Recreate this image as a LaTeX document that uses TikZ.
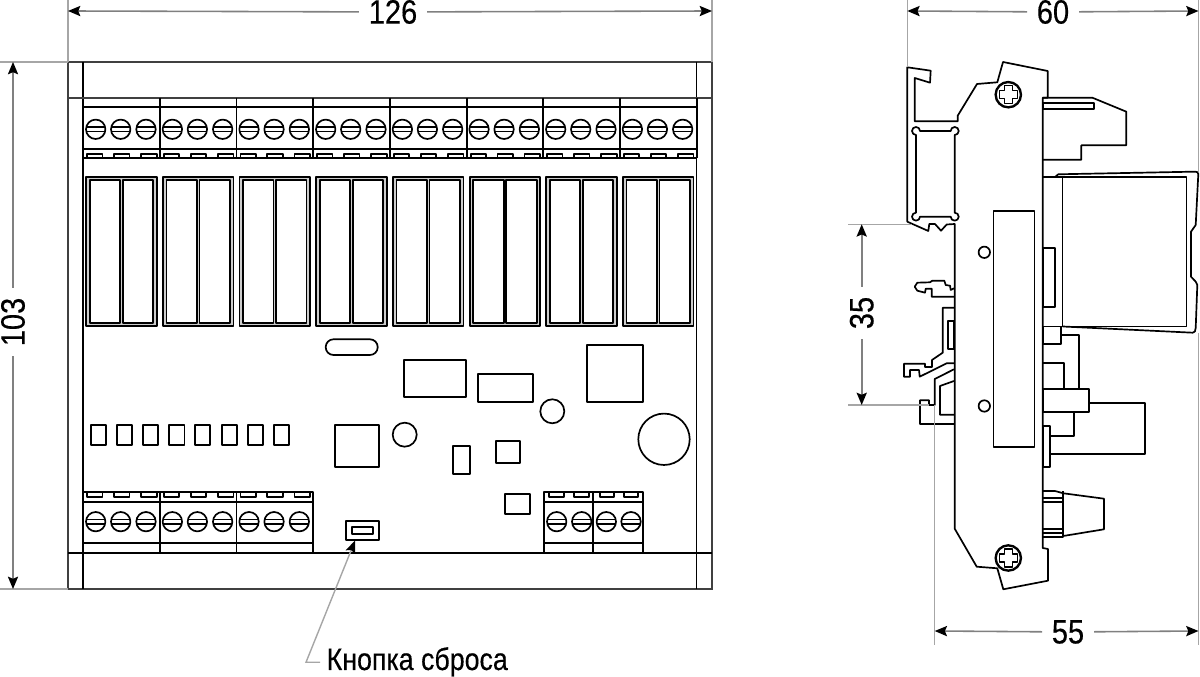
\documentclass[tikz,border=0pt]{standalone}
\usepackage{fontspec}
\setmainfont[FakeStretch=0.86,FakeBold=0.35]{Liberation Sans}
\usetikzlibrary{arrows.meta}
\definecolor{dimgray}{gray}{0.5}
\definecolor{relaygray}{gray}{0.8}
\tikzset{part/.style={draw=black,line width=0.48pt,line join=round},
  thickpart/.style={draw=black!75,line width=0.62pt},
  extline/.style={draw=dimgray!70,line width=0.4pt},
  dimline/.style={draw=dimgray,line width=0.45pt,{Stealth[length=3.5pt,width=2.9pt,inset=0.6pt,color=black]}-},
  dimtext/.style={inner sep=2.6pt,font=\fontsize{9.6}{10}\selectfont},
  labeltext/.style={inner sep=0pt,anchor=base west,font=\fontsize{8.85}{10}\selectfont}}
\newcommand{\screwhead}[2]{
    \draw[part] (#1,#2) circle (9.7);
    \draw[part] (#1-9.4,#2-2.3) -- (#1+9.4,#2-2.3);
    \draw[part] (#1-9.4,#2+2.3) -- (#1+9.4,#2+2.3);
}
\newcommand{\crossscrew}[2]{
    \draw[part] (#1,#2) circle (13);
    \draw[part,line width=0.3pt] (#1,#2) circle (12);
    \draw[part,line width=0.42pt] (#1-4,#2-9) -- (#1+4,#2-9) -- (#1+4,#2-4) -- (#1+9,#2-4) -- (#1+9,#2+4) -- (#1+4,#2+4) -- (#1+4,#2+9) -- (#1-4,#2+9) -- (#1-4,#2+4) -- (#1-9,#2+4) -- (#1-9,#2-4) -- (#1-4,#2-4) -- cycle;
}
\begin{document}
\begin{tikzpicture}[x=0.01cm,y=-0.01cm]
    \useasboundingbox (0,0) rectangle (1200,677);

    % housing, front view
    \draw[thickpart] (68,62) rectangle (712,589);
    \draw[part] (83.3,62) -- (83.3,589);
    \draw[part] (696.6,62) -- (696.6,589);
    \draw[thickpart] (68,97.7) -- (712,97.7);
    \draw[part] (68,553.3) -- (712,553.3);

    % upper terminals and relays
    \draw[part] (83.3,107.3) -- (696.6,107.3);
    \draw[part] (83.3,148.7) -- (696.6,148.7);
    \draw[part] (83.3,158.3) -- (696.6,158.3);
    \foreach \i in {0,...,7}{
      \begin{scope}[shift={({83.3+76.67*\i},0)}]
        \draw[part] (76.67,97.7) -- (76.67,158.3);
        \screwhead{12.4}{129.3}
        \screwhead{37.4}{129.3}
        \screwhead{62.7}{129.3}
        \draw[part] (4,158.3) |- (19.2,153.7) -- (19.2,158.3);
        \draw[part] (30.7,158.3) |- (46.3,153.7) -- (46.3,158.3);
        \draw[part] (57.7,158.3) |- (73.4,153.7) -- (73.4,158.3);
        \draw[part,fill=relaygray] (3,177) rectangle (73.4,326);
        \draw[part,fill=white] (6.4,180.3) rectangle (37,323.3);
        \draw[part,fill=white] (39.4,180.3) rectangle (70,323.3);
      \end{scope}
    }

    % lower terminals
    \foreach \i in {0,1,2}{
      \begin{scope}[shift={({83.3+76.67*\i},0)}]
        \draw[part] (0,492.3) rectangle (76.67,553.3);
        \draw[part] (0,502.3) -- (76.67,502.3);
        \draw[part] (0,543.3) -- (76.67,543.3);
        \screwhead{12.4}{521.7}
        \screwhead{37.4}{521.7}
        \screwhead{62.7}{521.7}
        \draw[part] (4,492.3) |- (19.2,497.3) -- (19.2,492.3);
        \draw[part] (30.7,492.3) |- (46.3,497.3) -- (46.3,492.3);
        \draw[part] (57.7,492.3) |- (73.4,497.3) -- (73.4,492.3);
      \end{scope}
    }
    \draw[part] (544,492.3) rectangle (643.3,553.3);
    \draw[part] (593.3,492.3) -- (593.3,553.3);
    \draw[part] (544,502.3) -- (643.3,502.3);
    \draw[part] (544,543.3) -- (643.3,543.3);
    \foreach \sx in {556.7,581.7,606.3,631}{
      \screwhead{\sx}{521.7}
    }
    \foreach \sa/\sb in {549.3/564.3,574.3/589,599.7/613.7,624.3/638.3}{
      \draw[part] (\sa,492.3) |- (\sb,497.3) -- (\sb,492.3);
    }

    % board parts
    \draw[part,rounded corners=2.2pt] (325.7,339.3) rectangle (377.7,355);
    \draw[part] (403.7,360.3) rectangle (465.7,397);
    \draw[part] (477.7,373.7) rectangle (533.3,402.3);
    \draw[part] (587,345.3) rectangle (643,402.3);
    \draw[part] (335,425.3) rectangle (379,466.7);
    \draw[part] (453,446) rectangle (469.7,473.7);
    \draw[part] (496,441) rectangle (520.3,463.3);
    \draw[part] (505.3,493.7) rectangle (530.3,514.3);
    \draw[part] (552.3,411.3) circle (12);
    \draw[part] (404.7,434.7) circle (12);
    \draw[part] (664,439.3) circle (25.7);
    \foreach \lx in {90.7,116.7,142.7,169.3,195,222,247.7,273.7}{
      \draw[part] (\lx,425.3) rectangle (\lx+15.3,444.7);
    }
    \draw[part] (345.7,520.7) rectangle (379.3,540);
    \draw[part] (352.3,526.7) rectangle (372.7,534);

    % side view, rail foot
    \draw[part] (1042.7,97.7) -- (1047.7,97.7) -- (1047.7,71) -- (1003,62) -- (997.3,82.3) -- (977,84) -- (957.7,115.7) -- (957.7,121.3) -- (914.7,121.3) -- (914.7,78) -- (930,82.7) -- (930.7,70.7) -- (907.3,67.3) -- (907.3,221.7) -- (928.3,231) -- (929.3,224) -- (935,224) -- (941,230.7) -- (946.7,224.5) -- (954.7,224) -- (954.7,528.7) -- (976.7,566.7) -- (997.3,568.3) -- (1003.3,589.3) -- (1048,580.7) -- (1048,549) -- (1042.7,548) -- cycle;

    % side view, rail profile
    \draw[part] (920,131) -- (950.7,131) arc[start angle=180,delta angle=-270,radius=1.14pt] -- (954.7,212.7) arc[start angle=90,delta angle=-270,radius=1.14pt] -- (920,216.7) arc[start angle=0,delta angle=-270,radius=1.14pt] -- (916,135) arc[start angle=270,delta angle=-270,radius=1.14pt] -- cycle;

    % side view, clips on the rail
    \draw[part] (954,288.3) -- (950.7,290) -- (950,285.7) -- (945.7,285) -- (944.3,280.7) -- (932.3,280.7) -- (930,282.3) -- (917.3,282.7) -- (914.7,286.7) -- (917.3,290.7) -- (925,292.7) -- (925.7,288.7) -- (931.7,288.7) -- (931.7,296.7) -- (954,296.7);
    \draw[part] (954,307.7) -- (942.7,307.7) -- (942.7,352.7) -- (932,360) -- (932,367) -- (925,367) -- (925,363.7) -- (904,363.7) -- (904,376.7) -- (910,376.7) -- (910,370) -- (919,370) -- (919.7,376.7) -- (946.7,363.3) -- (954,363.3);
    \draw[part] (948.3,321.3) rectangle (954,349.3);
    \draw[part] (954,369.3) -- (934.7,379) -- (934.7,405) -- (929,405) -- (929,400.3) -- (920,400.3) -- (920,424) -- (954,424);
    \draw[part] (954,381) -- (940,386) -- (940,414.7) -- (954,414.7);

    % side view, body parts
    \draw[part] (993.5,211) rectangle (1034.5,447);
    \draw[part] (984.3,252.3) circle (5.7);
    \draw[part] (984.3,406) circle (5.7);
    \crossscrew{1008.3}{94.7}
    \crossscrew{1008.3}{558}

    % side view, top clamp
    \draw[part] (1042.7,97.7) -- (1092.3,97.7) -- (1126.3,111.7) -- (1126.3,145.3) -- (1081.3,145.3) -- (1081.3,159.7) -- (1042.7,159.7);
    \draw[part] (1042.7,103.3) rectangle (1093.7,108.7);

    % side view, relay
    \draw[part] (1042.7,177) -- (1186.5,177) -- (1186.5,326.5) -- (1042.7,326.5);
    \draw[part] (1062.5,177) -- (1062.5,326.5);
    \draw[part] (1055,177) -- (1058.3,174.3) -- (1193.3,171.7) .. controls (1197,171.7) and (1198.3,172) .. (1198.3,174) -- (1195.7,225) -- (1191,231.7) -- (1191,276.7) -- (1195.7,281.7) -- (1197.3,285) -- (1195.7,328) .. controls (1195.7,331) and (1194.5,332.7) .. (1192.7,332.7) -- (1062.7,326.5);
    \draw[part] (1043,248.3) rectangle (1054.7,306.7);

    % side view, parts under the relay
    \draw[part] (1042.7,326.5) rectangle (1060.7,344);
    \draw[part] (1060.7,335) -- (1078.7,335) -- (1078.7,388.7);
    \draw[part] (1042.7,363) -- (1063.7,363) -- (1063.7,388.7);
    \draw[part] (1042.7,388.7) rectangle (1089,412.3);
    \draw[part] (1074.3,412.3) -- (1074.3,435.7) -- (1050,435.7);
    \draw[part] (1042.7,425.7) rectangle (1050,466.7);
    \draw[part] (1089,402.7) -- (1145,402.7) -- (1145,454) -- (1050,454);

    % side view, lower plug
    \draw[part] (1042.7,491) -- (1055,491) -- (1063.3,493.3) -- (1104,498.7) -- (1104,529.3) -- (1063.3,536);
    \draw[part] (1063.3,491.5) -- (1063.3,537.3) -- (1042.7,537.3);
    \draw[part] (1042.7,498.3) -- (1063.3,498.3);
    \draw[part] (1042.7,502) -- (1063.3,502);
    \draw[part] (1042.7,529) -- (1063.3,529);
    \draw[part] (1042.7,533) -- (1063.3,533);

    % extension lines
    \draw[extline] (68,0) -- (68,62);
    \draw[extline] (712,0) -- (712,62);
    \draw[extline] (0,62) -- (68,62);
    \draw[extline] (0,589) -- (68,589);
    \draw[extline] (907.3,0) -- (907.3,67);
    \draw[extline] (1198.5,0) -- (1198.5,172);
    \draw[extline] (1198.5,333) -- (1198.5,645);
    \draw[extline] (934.7,405) -- (934.7,645);
    \draw[extline] (848,224.3) -- (912,224.3);
    \draw[extline] (848,405) -- (929,405);

    % dimensions
    \node[dimtext] (wfront) at (393,12) {126};
    \coordinate (wfronta) at (68,11);
    \coordinate (wfrontb) at (712,11);
    \draw[dimline] (wfronta) -- (wfront);
    \draw[dimline] (wfrontb) -- (wfront);

    \node[dimtext,rotate=90] (hfront) at (13,322) {103};
    \coordinate (hfronta) at (13,62);
    \coordinate (hfrontb) at (13,589);
    \draw[dimline] (hfronta) -- (hfront);
    \draw[dimline] (hfrontb) -- (hfront);

    \node[dimtext] (wside) at (1053,12) {60};
    \coordinate (wsidea) at (907.3,11);
    \coordinate (wsideb) at (1198.5,11);
    \draw[dimline] (wsidea) -- (wside);
    \draw[dimline] (wsideb) -- (wside);

    \node[dimtext] (wbase) at (1068,632) {55};
    \coordinate (wbasea) at (934.7,631);
    \coordinate (wbaseb) at (1198.5,631);
    \draw[dimline] (wbasea) -- (wbase);
    \draw[dimline] (wbaseb) -- (wbase);

    \node[dimtext,rotate=90] (hrail) at (861.7,313) {35};
    \coordinate (hraila) at (861.7,224.3);
    \coordinate (hrailb) at (861.7,405);
    \draw[dimline] (hraila) -- (hrail);
    \draw[dimline] (hrailb) -- (hrail);

    % reset button label
    \node[labeltext] (resetlabel) at (326,670) {Кнопка сброса};
    \coordinate (resettip) at (355,540.7);
    \coordinate (resetbend) at (306,662.3);
    \coordinate (resetend) at (320,662.3);
    \draw[extline,{Stealth[length=3.5pt,width=2.9pt,inset=0.6pt,color=black]}-] (resettip) -- (resetbend) -- (resetend);
\end{tikzpicture}
\end{document}
